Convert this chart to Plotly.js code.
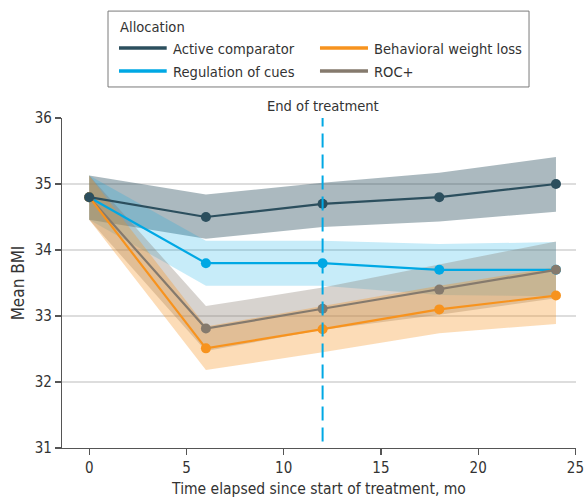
<!DOCTYPE html>
<html>
<head>
<meta charset="utf-8">
<script src="https://cdn.plot.ly/plotly-3.0.1.min.js"></script>
<style>html,body{margin:0;padding:0;background:#fff;} #chart{width:584px;height:498px;}</style>
</head>
<body>
<div id="chart"></div>
<script>
// Data (months, mean BMI, 95% CI bounds)
const months = [0, 6, 12, 18, 24];

const activeMean  = [34.80, 34.50, 34.70, 34.80, 35.00];
const activeUpper = [35.13, 34.84, 35.02, 35.17, 35.41];
const activeLower = [34.46, 34.17, 34.35, 34.43, 34.58];

const cuesMean  = [34.80, 33.80, 33.80, 33.70, 33.70];
const cuesUpper = [35.13, 34.14, 34.14, 34.09, 34.12];
const cuesLower = [34.46, 33.46, 33.46, 33.32, 33.30];

const bwlMean  = [34.80, 32.51, 32.80, 33.10, 33.31];
const bwlUpper = [35.13, 32.84, 33.15, 33.46, 33.74];
const bwlLower = [34.46, 32.18, 32.45, 32.74, 32.88];

const rocMean  = [34.80, 32.81, 33.11, 33.40, 33.70];
const rocUpper = [35.13, 33.15, 33.43, 33.78, 34.13];
const rocLower = [34.46, 32.47, 32.79, 33.02, 33.27];

const groupNames = ["Active comparator", "Behavioral weight loss", "Regulation of cues", "ROC+"];
const legendTitle = "Allocation";
const endOfTreatment = 12;
const endLabel = "End of treatment";
const xTicks = [0, 5, 10, 15, 20, 25];
const yTicks = [31, 32, 33, 34, 35, 36];

const FONT = "'DejaVu Sans Condensed', 'Liberation Sans Narrow', sans-serif";
const FS_LEG = 14.6;
const FS_TICK = 15;
const FS_TITLE = 15.5;
const TXT = "#333";

const groups = [
  {name: groupNames[0], mean: activeMean, up: activeUpper, lo: activeLower, color: "#2c4f5e", band: "rgba(44,79,94,0.40)"},
  {name: groupNames[2], mean: cuesMean, up: cuesUpper, lo: cuesLower, color: "#00a8e4", band: "rgba(0,168,228,0.22)"},
  {name: groupNames[3], mean: rocMean, up: rocUpper, lo: rocLower, color: "#857a6d", band: "rgba(133,122,109,0.33)"},
  {name: groupNames[1], mean: bwlMean, up: bwlUpper, lo: bwlLower, color: "#f7931e", band: "rgba(247,147,30,0.32)"}
];

const traces = [];
groups.forEach(g => {
  traces.push({
    x: months.concat(months.slice().reverse()),
    y: g.up.concat(g.lo.slice().reverse()),
    type: "scatter", mode: "lines", fill: "toself",
    fillcolor: g.band, line: {width: 0}, hoverinfo: "skip", showlegend: false
  });
});
// mean lines: drawn so that Active comparator ends on top
const lineOrder = [groupNames[2], groupNames[3], groupNames[1], groupNames[0]];
lineOrder.forEach(n => {
  const g = groups.find(gg => gg.name === n);
  traces.push({
    x: months, y: g.mean, name: g.name,
    type: "scatter", mode: "lines+markers",
    line: {color: g.color, width: 2.2},
    marker: {color: g.color, size: 10},
    showlegend: false
  });
});

// Legend drawn as a box with line samples (paper coordinates)
const shapes = [];
const annotations = [];
shapes.push({type: "rect", xref: "paper", yref: "paper", x0: 0.0895, x1: 0.9086, y0: 1.094, y1: 1.324,
  line: {color: "#7a7a7a", width: 1}, fillcolor: "rgba(0,0,0,0)"});
annotations.push({text: legendTitle, xref: "paper", yref: "paper", x: 0.108, y: 1.276,
  xanchor: "left", yanchor: "middle", showarrow: false, font: {size: FS_LEG, color: TXT}});
const legPos = [
  {col: 0, row: 0}, {col: 1, row: 0}, {col: 0, row: 1}, {col: 1, row: 1}
];
const colX = [[0.1109, 0.2037, 0.2115], [0.5019, 0.5953, 0.6031]];
const rowY = [1.2121, 1.1424];
groupNames.forEach((n, i) => {
  const g = groups.find(gg => gg.name === n);
  const p = legPos[i];
  const cx = colX[p.col], ry = rowY[p.row];
  shapes.push({type: "line", xref: "paper", yref: "paper", x0: cx[0], x1: cx[1], y0: ry, y1: ry,
    line: {color: g.color, width: 3.5}});
  annotations.push({text: n, xref: "paper", yref: "paper", x: cx[2], y: ry,
    xanchor: "left", yanchor: "middle", showarrow: false, font: {size: FS_LEG, color: TXT}});
});

shapes.push({
  type: "line", xref: "x", yref: "y", x0: endOfTreatment, x1: endOfTreatment, y0: 31.1, y1: 36,
  line: {color: "#00a8e4", width: 2, dash: "14px,7px"}, layer: "above"
});
annotations.push({
  text: endLabel, xref: "x", yref: "paper", x: endOfTreatment, y: 1.0,
  yanchor: "bottom", xanchor: "center", showarrow: false, yshift: 2,
  font: {size: FS_LEG, color: TXT}
});

const layout = {
  width: 584, height: 498,
  margin: {l: 62, r: 8, t: 118, b: 50},
  paper_bgcolor: "#fff", plot_bgcolor: "#fff",
  font: {family: FONT, size: FS_TICK, color: TXT},
  showlegend: false,
  xaxis: {
    range: [-1.4, 25.03], tickvals: xTicks, ticktext: xTicks.map(String),
    showgrid: false, zeroline: false, showline: true, linecolor: "#555", linewidth: 1.2,
    ticks: "outside", ticklen: 6, tickcolor: "#555", tickwidth: 1.2,
    ticklabeloverflow: "allow",
    tickfont: {size: FS_TICK, color: TXT},
    title: {text: "Time elapsed since start of treatment, mo", font: {size: FS_TITLE, color: TXT}, standoff: 13}
  },
  yaxis: {
    range: [31, 36], tickvals: yTicks, ticktext: yTicks.map(String),
    showgrid: true, gridcolor: "#dddddd", gridwidth: 2, zeroline: false,
    showline: true, linecolor: "#555", linewidth: 1.2,
    ticks: "outside", ticklen: 6, tickcolor: "#555", tickwidth: 1.2,
    tickfont: {size: FS_TICK, color: TXT},
    title: {text: "Mean BMI", font: {size: 17, color: TXT}, standoff: 5}
  },
  shapes: shapes,
  annotations: annotations
};

Plotly.newPlot("chart", traces, layout, {displayModeBar: false, staticPlot: true});
</script>
</body>
</html>
